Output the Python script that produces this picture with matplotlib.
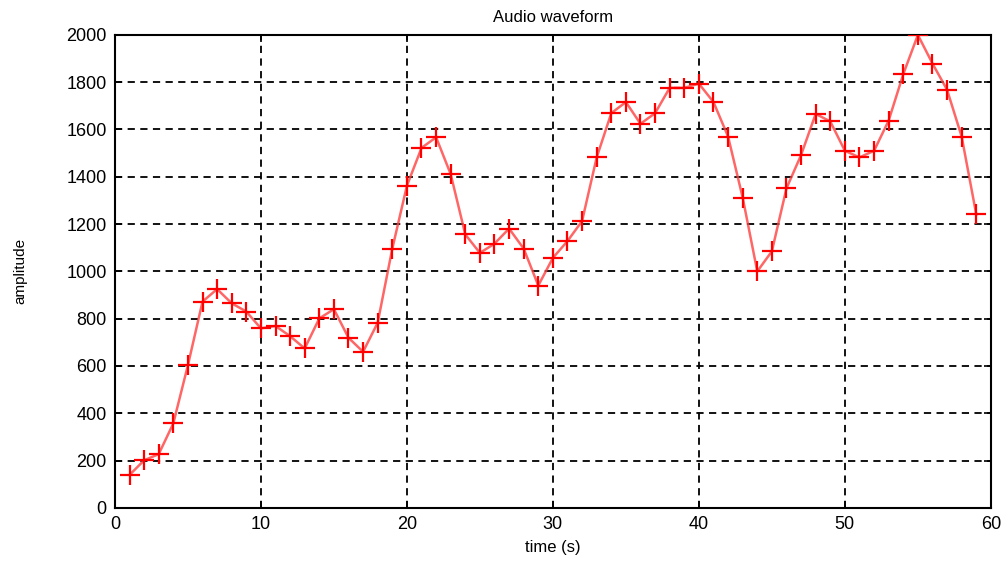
import numpy as np
import matplotlib.pyplot as plt

plt.rcParams['font.family'] = ['Liberation Sans', 'DejaVu Sans']

# time in seconds, one sample per second
t = np.arange(1, 60)
amp = [139, 201, 227, 357, 603, 872, 925, 865, 830, 759,
       769, 726, 674, 801, 840, 719, 660, 783, 1096, 1362,
       1522, 1567, 1411, 1156, 1078, 1117, 1181, 1096, 940, 1057,
       1128, 1213, 1482, 1669, 1716, 1624, 1669, 1776, 1776, 1794,
       1716, 1570, 1312, 1000, 1085, 1351, 1492, 1666, 1634, 1510,
       1482, 1510, 1638, 1834, 2000, 1879, 1768, 1570, 1241]

xticks = np.arange(0, 61, 10)
yticks = np.arange(0, 2001, 200)

fig = plt.figure(figsize=(10.08, 5.63), dpi=100)
ax = fig.add_axes([0.114, 0.098, 0.869, 0.84])

ax.plot(t, amp, color='#ff4040', lw=1.8, alpha=0.8, zorder=3)
ax.plot(t, amp, ls='none', marker='+', ms=14, mew=1.6, color='red', zorder=4)

ax.set_xlim(0, 60)
ax.set_ylim(0, 2000)
ax.set_xticks(xticks)
ax.set_yticks(yticks)
ax.tick_params(direction='in', top=True, right=True, length=5, width=1.2,
               labelsize=13, pad=6)
ax.grid(True, color='black', ls=(0, (4, 3)), lw=1.3)
for s in ax.spines.values():
    s.set_linewidth(1.5)

ax.set_title("Audio waveform", fontsize=12, pad=9)
ax.set_xlabel("time (s)", fontsize=12, labelpad=5)
ax.set_ylabel("amplitude", fontsize=11, labelpad=28)

fig.savefig("out.png", dpi=100)
